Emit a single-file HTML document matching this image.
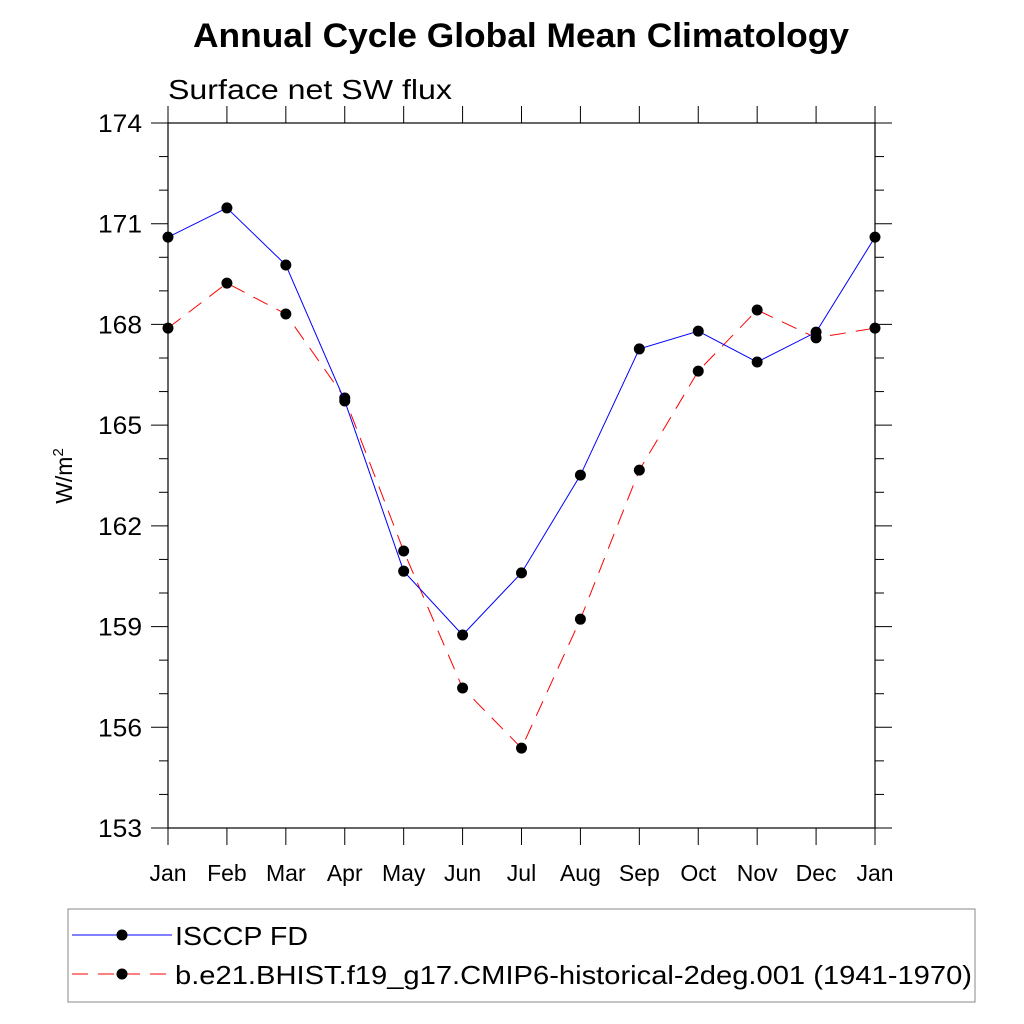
<!DOCTYPE html>
<html><head><meta charset="utf-8"><style>
html,body{margin:0;padding:0;background:#fff;}
svg{display:block;font-family:"Liberation Sans",sans-serif;}
</style></head><body>
<svg id="chart" width="1024" height="1024" viewBox="0 0 1024 1024" xmlns="http://www.w3.org/2000/svg">
<text x="193" y="47" font-size="34" font-weight="bold" textLength="656" lengthAdjust="spacingAndGlyphs">Annual Cycle Global Mean Climatology</text>
<text x="168" y="99" font-size="28" textLength="284" lengthAdjust="spacingAndGlyphs">Surface net SW flux</text>
<text transform="translate(72,476) rotate(-90)" text-anchor="middle" font-size="23">W/m<tspan dy="-9" font-size="15">2</tspan></text>
<rect x="168" y="123" width="707" height="705" fill="none" stroke="#000" stroke-width="1.2"/>
<g id="axes"></g>
<g id="series"></g>
<g>
<rect x="68" y="909" width="907" height="93" fill="none" stroke="#888" stroke-width="1"/>
<g>
<line x1="72" y1="935" x2="172" y2="935" stroke="#0000ff" stroke-width="1"/>
<circle cx="122" cy="935" r="5.5" fill="#000"/>
<text x="175" y="945" font-size="26" textLength="133" lengthAdjust="spacingAndGlyphs">ISCCP FD</text>
</g>
<g>
<line x1="72" y1="974" x2="172" y2="974" stroke="#ff0000" stroke-width="1" stroke-dasharray="16,10"/>
<circle cx="122" cy="974" r="5.5" fill="#000"/>
<text x="175" y="984" font-size="26" textLength="797" lengthAdjust="spacingAndGlyphs">b.e21.BHIST.f19_g17.CMIP6-historical-2deg.001 (1941-1970)</text>
</g>
</g>
</svg>
<script>
const months = ["Jan","Feb","Mar","Apr","May","Jun","Jul","Aug","Sep","Oct","Nov","Dec","Jan"];
const isccpValues = [170.6,171.47,169.77,165.72,160.65,158.75,160.6,163.51,167.27,167.8,166.88,167.77,170.6];
const modelValues = [167.89,169.23,168.31,165.81,161.25,157.17,155.38,159.22,163.66,166.61,168.43,167.6,167.89];
const yTickLabels = [153,156,159,162,165,168,171,174];

const NS="http://www.w3.org/2000/svg";
const X0=168,X1=875,Y0=828,Y1=123,YMIN=153,YMAX=174;
const xs=i=>X0+(X1-X0)*i/(months.length-1);
const ys=v=>Y0-(v-YMIN)/(YMAX-YMIN)*(Y0-Y1);
function mk(tag,attrs,parent){const e=document.createElementNS(NS,tag);for(const k in attrs)e.setAttribute(k,attrs[k]);parent.appendChild(e);return e;}
const axes=document.getElementById('axes');
for(let v=YMIN;v<=YMAX;v++){
  const major=(v-YMIN)%3===0, len=major?17:9, y=ys(v);
  const l=mk('line',{x1:X0-len,x2:X0,y1:y,y2:y,stroke:'#000','stroke-width':1},axes);
  
  
  const r=mk('line',{x1:X1,x2:X1+len,y1:y,y2:y,stroke:'#000','stroke-width':1},axes);
  
  
}
yTickLabels.forEach(v=>{
  const t=mk('text',{x:142,y:ys(v)+9,'text-anchor':'end','font-size':25,textLength:44,lengthAdjust:'spacingAndGlyphs'},axes);
  
  
  t.textContent=v;
});
months.forEach((m,i)=>{
  const x=xs(i);
  const b=mk('line',{x1:x,x2:x,y1:Y0,y2:Y0+17,stroke:'#000','stroke-width':1},axes);
  
  
  const t2=mk('line',{x1:x,x2:x,y1:Y1-17,y2:Y1,stroke:'#000','stroke-width':1},axes);
  
  
  const t=mk('text',{x:x,y:881,'text-anchor':'middle','font-size':23},axes);
  
  
  t.textContent=m;
});
const series=document.getElementById('series');
function draw(vals,color,dash,name){
  const g=mk('g',{},series);
  
  
  const p=mk('polyline',{points:vals.map((v,i)=>xs(i)+','+ys(v)).join(' '),fill:'none',stroke:color,'stroke-width':1,'stroke-dasharray':dash},g);
  
  
  vals.forEach((v,i)=>{
    const c=mk('circle',{cx:xs(i),cy:ys(v),r:5.5,fill:'#000'},g);
    
    
  });
}
draw(modelValues,'#ff0000','16,10','model-series');
draw(isccpValues,'#0000ff','none','isccp-series');
</script>
</body></html>
